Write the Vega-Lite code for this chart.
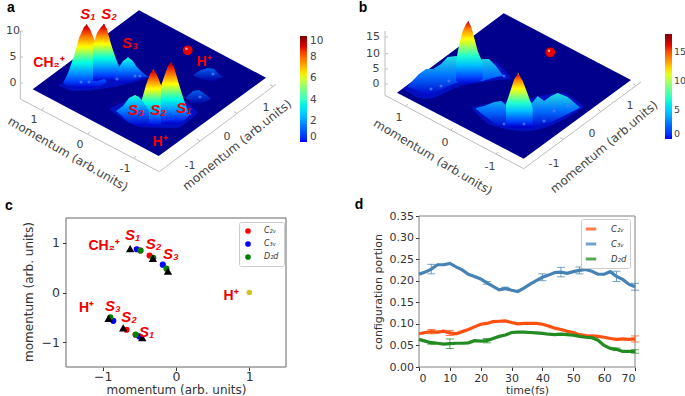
{
"$schema":"https://vega.github.io/schema/vega-lite/v6.json",
"padding":0,
"background":"white",
"columns":2,
"bounds":"flush",
"align":"all",
"spacing":{"row":0,"column":133},
"config":{"view":{"stroke":null},"font":"DejaVu Sans"},
"datasets":{
"aFloor":[{"u":31.7,"top":88.3,"base":88.3},{"u":138,"top":9.3,"base":144.6},{"u":157.7,"top":19.8,"base":155},{"u":265,"top":76.7,"base":76.7}],
"bFloor":[{"u":396,"top":91.7,"base":91.7},{"u":502.7,"top":12.3,"base":147.3},{"u":522.7,"top":22.8,"base":157.7},{"u":630,"top":79,"base":79}],
"aAxis":[{"u":19.3,"w":30,"i":0},{"u":19.3,"w":98,"i":1},{"u":158.3,"w":170.7,"i":2},{"u":275,"w":83.3,"i":3}],
"bAxis":[{"u":384,"w":30,"i":0},{"u":384,"w":94.3,"i":1},{"u":522.7,"w":167.7,"i":2},{"u":640,"w":81,"i":3}],
"aTicks":[{"u":19.3,"u2":22,"w":30,"w2":30},{"u":19.3,"u2":22,"w":56,"w2":56},{"u":19.3,"u2":22,"w":82,"w2":82},{"u":41,"u2":43,"w":109,"w2":106.5},{"u":87,"u2":89,"w":133,"w2":130.5},{"u":133,"u2":135,"w":157.5,"w2":155},{"u":199,"u2":196,"w":140,"w2":138},{"u":236,"u2":233,"w":112.5,"w2":110.5},{"u":272,"u2":269,"w":85.6,"w2":83.6}],
"bTicks":[{"u":384,"u2":387,"w":36,"w2":36},{"u":384,"u2":387,"w":52.7,"w2":52.7},{"u":384,"u2":387,"w":68,"w2":68},{"u":384,"u2":387,"w":83,"w2":83},{"u":405,"u2":407,"w":105,"w2":103},{"u":450,"u2":452,"w":129,"w2":127},{"u":495,"u2":497,"w":153,"w2":151},{"u":562,"u2":559,"w":138.6,"w2":136.6},{"u":600,"u2":597,"w":110.5,"w2":108.5},{"u":635,"u2":632,"w":84.7,"w2":82.7}],
"aSkirt":[{"p":"front","u":108,"top":108,"base":108},{"p":"front","u":125,"top":100,"base":120},{"p":"front","u":140,"top":96,"base":126},{"p":"front","u":175,"top":96,"base":127},{"p":"front","u":190,"top":105,"base":118},{"p":"front","u":197,"top":112,"base":112},{"p":"back","u":57,"top":84,"base":84},{"p":"back","u":75,"top":78,"base":90},{"p":"back","u":100,"top":70,"base":88},{"p":"back","u":130,"top":70,"base":82},{"p":"back","u":150,"top":76,"base":76}],
"bSkirt":[{"p":"front","u":470,"top":106,"base":106},{"p":"front","u":490,"top":102,"base":124},{"p":"front","u":525,"top":98,"base":130},{"p":"front","u":560,"top":92,"base":120},{"p":"front","u":583,"top":106,"base":106},{"p":"back","u":402,"top":88,"base":88},{"p":"back","u":425,"top":72,"base":98},{"p":"back","u":460,"top":60,"base":85},{"p":"back","u":490,"top":60,"base":80},{"p":"back","u":511,"top":78,"base":78}],
"aTall":[
{"p":"S1","u":62,"top":82,"base":82},{"p":"S1","u":67,"top":72,"base":85},{"p":"S1","u":73,"top":55,"base":86},{"p":"S1","u":78,"top":37,"base":87},{"p":"S1","u":83,"top":26,"base":87},{"p":"S1","u":85.7,"top":23.5,"base":87},{"p":"S1","u":89,"top":28,"base":87},{"p":"S1","u":95,"top":43,"base":86},{"p":"S1","u":100,"top":63,"base":85},{"p":"S1","u":105,"top":80,"base":82},
{"p":"S2","u":92,"top":44,"base":80},{"p":"S2","u":96,"top":32,"base":80},{"p":"S2","u":100,"top":26,"base":79},{"p":"S2","u":103,"top":23,"base":78},{"p":"S2","u":106,"top":28,"base":79},{"p":"S2","u":110,"top":43,"base":79},{"p":"S2","u":115,"top":58,"base":80},{"p":"S2","u":120,"top":70,"base":78},{"p":"S2","u":125,"top":80,"base":76},
{"p":"F2","u":137,"top":112,"base":120},{"p":"F2","u":141,"top":98,"base":122},{"p":"F2","u":145,"top":84,"base":124},{"p":"F2","u":149,"top":73,"base":125},{"p":"F2","u":152.3,"top":68,"base":125},{"p":"F2","u":156,"top":74,"base":125},{"p":"F2","u":160,"top":84,"base":124},{"p":"F2","u":165,"top":98,"base":122},{"p":"F2","u":170,"top":112,"base":120},
{"p":"F1","u":160,"top":85,"base":122},{"p":"F1","u":164,"top":73,"base":123},{"p":"F1","u":167,"top":65,"base":123},{"p":"F1","u":170,"top":61.5,"base":123},{"p":"F1","u":173,"top":66,"base":123},{"p":"F1","u":177,"top":80,"base":123},{"p":"F1","u":181,"top":93,"base":121},{"p":"F1","u":185,"top":105,"base":118},{"p":"F1","u":190,"top":115,"base":112}
],
"aShort":[
{"p":"S3","u":113,"top":78,"base":79},{"p":"S3","u":118,"top":66,"base":82},{"p":"S3","u":122,"top":60,"base":82},{"p":"S3","u":127,"top":56.5,"base":82},{"p":"S3","u":131,"top":59,"base":80},{"p":"S3","u":136,"top":66,"base":78},{"p":"S3","u":142,"top":72,"base":76},{"p":"S3","u":147,"top":76,"base":76},
{"p":"F3","u":115,"top":110,"base":110},{"p":"F3","u":122,"top":105,"base":116},{"p":"F3","u":128,"top":97,"base":122},{"p":"F3","u":134,"top":94,"base":124},{"p":"F3","u":138,"top":96,"base":125},{"p":"F3","u":143,"top":102,"base":125},{"p":"F3","u":148,"top":110,"base":122}
],
"aLow":[
{"p":"H1","u":192,"top":74,"base":74},{"p":"H1","u":200,"top":69,"base":78},{"p":"H1","u":207,"top":67,"base":80},{"p":"H1","u":213,"top":68,"base":80},{"p":"H1","u":219,"top":74,"base":77},{"p":"H1","u":223,"top":76,"base":76},
{"p":"H2","u":185,"top":96,"base":98},{"p":"H2","u":192,"top":90,"base":102},{"p":"H2","u":198,"top":89,"base":103},{"p":"H2","u":204,"top":93,"base":101},{"p":"H2","u":210,"top":98,"base":98}
],
"aPatch":[{"u":80,"w":81},{"u":88,"w":81},{"u":116,"w":78},{"u":134,"w":75},{"u":139,"w":75},{"u":212,"w":73},{"u":199,"w":96}],
"aTips":[{"u":85.7,"w":24,"v":9.6},{"u":103,"w":23.5,"v":9.6},{"u":127,"w":57,"v":3.6},{"u":152.3,"w":69,"v":8.4},{"u":170,"w":62,"v":9.2},{"u":134,"w":95,"v":4.2}],
"bTall":[
{"p":"B1","u":455,"top":60,"base":80},{"p":"B1","u":458.3,"top":43,"base":82},{"p":"B1","u":461.7,"top":30,"base":82},{"p":"B1","u":465,"top":23,"base":83},{"p":"B1","u":467.3,"top":20.5,"base":83},{"p":"B1","u":470,"top":25,"base":83},{"p":"B1","u":473.3,"top":37,"base":82},{"p":"B1","u":476.7,"top":50,"base":81},{"p":"B1","u":481.7,"top":62,"base":78},
{"p":"B2","u":505,"top":103,"base":125},{"p":"B2","u":510,"top":88,"base":126},{"p":"B2","u":513.3,"top":78,"base":126},{"p":"B2","u":517.3,"top":72.5,"base":126},{"p":"B2","u":521.7,"top":80,"base":126},{"p":"B2","u":526.7,"top":93,"base":126},{"p":"B2","u":531.7,"top":107,"base":125}
],
"bRidge":[
{"p":"R1","u":406.7,"top":85,"base":86},{"p":"R1","u":418,"top":73,"base":90},{"p":"R1","u":425,"top":68,"base":95},{"p":"R1","u":432,"top":68,"base":93},{"p":"R1","u":440,"top":63,"base":89},{"p":"R1","u":446.7,"top":56,"base":85},{"p":"R1","u":455,"top":55,"base":82},{"p":"R1","u":476.7,"top":60,"base":80},{"p":"R1","u":481.7,"top":58,"base":80},{"p":"R1","u":488,"top":58,"base":78},{"p":"R1","u":495,"top":65,"base":76},{"p":"R1","u":501.7,"top":74,"base":75},{"p":"R1","u":506.7,"top":78,"base":78},
{"p":"R2","u":475,"top":107,"base":108},{"p":"R2","u":483.3,"top":105,"base":115},{"p":"R2","u":493.3,"top":101,"base":122},{"p":"R2","u":500,"top":100,"base":126},{"p":"R2","u":505,"top":104,"base":126},{"p":"R2","u":513.3,"top":100,"base":127},{"p":"R2","u":526.7,"top":98,"base":127},{"p":"R2","u":531,"top":102,"base":127},{"p":"R2","u":536.7,"top":95,"base":125},{"p":"R2","u":543,"top":100,"base":123},{"p":"R2","u":550,"top":95,"base":121},{"p":"R2","u":556.7,"top":92,"base":118},{"p":"R2","u":566.7,"top":96,"base":113},{"p":"R2","u":578.3,"top":106,"base":107}
],
"bPatch":[{"u":430,"w":88},{"u":440,"w":85},{"u":448,"w":80},{"u":503,"w":75},{"u":503,"w":123},{"u":523,"w":123},{"u":543,"w":120},{"u":553,"w":110},{"u":567,"w":105}],
"bTips":[{"u":467.3,"w":21,"v":17},{"u":517.3,"w":73,"v":13}],
"scatter":[
{"x":-0.36,"y":0.745,"c":"C₂ᵥ"},{"x":-0.485,"y":0.845,"c":"C₂ᵥ"},{"x":-0.674,"y":-0.75,"c":"C₂ᵥ"},{"x":-0.55,"y":-0.85,"c":"C₂ᵥ"},
{"x":-0.535,"y":0.87,"c":"C₃ᵥ"},{"x":-0.18,"y":0.56,"c":"C₃ᵥ"},{"x":-0.855,"y":-0.57,"c":"C₃ᵥ"},{"x":-0.5,"y":-0.885,"c":"C₃ᵥ"},
{"x":-0.485,"y":0.845,"c":"D₂d"},{"x":-0.13,"y":0.48,"c":"D₂d"},{"x":-0.895,"y":-0.5,"c":"D₂d"},{"x":-0.55,"y":-0.845,"c":"D₂d"},{"x":-0.31,"y":0.7,"c":"D₂d"}
],
"tri":[{"x":-0.625,"y":0.885},{"x":-0.315,"y":0.685},{"x":-0.11,"y":0.43},{"x":-0.92,"y":-0.52},{"x":-0.72,"y":-0.71},{"x":-0.46,"y":-0.91}],
"lines":[
{"t":0,"s":"C₂ᵥ","p":0.077},{"t":2,"s":"C₂ᵥ","p":0.08},{"t":4,"s":"C₂ᵥ","p":0.082},{"t":6,"s":"C₂ᵥ","p":0.081},{"t":8,"s":"C₂ᵥ","p":0.083},{"t":10,"s":"C₂ᵥ","p":0.079},{"t":12,"s":"C₂ᵥ","p":0.077},{"t":14,"s":"C₂ᵥ","p":0.082},{"t":16,"s":"C₂ᵥ","p":0.087},{"t":18,"s":"C₂ᵥ","p":0.093},{"t":20,"s":"C₂ᵥ","p":0.099},{"t":22,"s":"C₂ᵥ","p":0.101},{"t":24,"s":"C₂ᵥ","p":0.105},{"t":26,"s":"C₂ᵥ","p":0.106},{"t":28,"s":"C₂ᵥ","p":0.107},{"t":30,"s":"C₂ᵥ","p":0.103},{"t":32,"s":"C₂ᵥ","p":0.1},{"t":34,"s":"C₂ᵥ","p":0.101},{"t":36,"s":"C₂ᵥ","p":0.101},{"t":38,"s":"C₂ᵥ","p":0.101},{"t":40,"s":"C₂ᵥ","p":0.099},{"t":42,"s":"C₂ᵥ","p":0.095},{"t":44,"s":"C₂ᵥ","p":0.09},{"t":46,"s":"C₂ᵥ","p":0.087},{"t":48,"s":"C₂ᵥ","p":0.083},{"t":50,"s":"C₂ᵥ","p":0.08},{"t":52,"s":"C₂ᵥ","p":0.075},{"t":54,"s":"C₂ᵥ","p":0.073},{"t":56,"s":"C₂ᵥ","p":0.072},{"t":58,"s":"C₂ᵥ","p":0.071},{"t":60,"s":"C₂ᵥ","p":0.069},{"t":62,"s":"C₂ᵥ","p":0.066},{"t":64,"s":"C₂ᵥ","p":0.064},{"t":66,"s":"C₂ᵥ","p":0.065},{"t":68,"s":"C₂ᵥ","p":0.064},{"t":70,"s":"C₂ᵥ","p":0.065},
{"t":0,"s":"C₃ᵥ","p":0.215},{"t":2,"s":"C₃ᵥ","p":0.22},{"t":4,"s":"C₃ᵥ","p":0.227},{"t":6,"s":"C₃ᵥ","p":0.237},{"t":8,"s":"C₃ᵥ","p":0.237},{"t":10,"s":"C₃ᵥ","p":0.24},{"t":12,"s":"C₃ᵥ","p":0.232},{"t":14,"s":"C₃ᵥ","p":0.225},{"t":16,"s":"C₃ᵥ","p":0.215},{"t":18,"s":"C₃ᵥ","p":0.21},{"t":20,"s":"C₃ᵥ","p":0.204},{"t":22,"s":"C₃ᵥ","p":0.195},{"t":24,"s":"C₃ᵥ","p":0.187},{"t":26,"s":"C₃ᵥ","p":0.179},{"t":28,"s":"C₃ᵥ","p":0.182},{"t":30,"s":"C₃ᵥ","p":0.178},{"t":32,"s":"C₃ᵥ","p":0.175},{"t":34,"s":"C₃ᵥ","p":0.183},{"t":36,"s":"C₃ᵥ","p":0.192},{"t":38,"s":"C₃ᵥ","p":0.2},{"t":40,"s":"C₃ᵥ","p":0.208},{"t":42,"s":"C₃ᵥ","p":0.213},{"t":44,"s":"C₃ᵥ","p":0.219},{"t":46,"s":"C₃ᵥ","p":0.22},{"t":48,"s":"C₃ᵥ","p":0.217},{"t":50,"s":"C₃ᵥ","p":0.221},{"t":52,"s":"C₃ᵥ","p":0.224},{"t":54,"s":"C₃ᵥ","p":0.226},{"t":56,"s":"C₃ᵥ","p":0.222},{"t":58,"s":"C₃ᵥ","p":0.215},{"t":60,"s":"C₃ᵥ","p":0.215},{"t":62,"s":"C₃ᵥ","p":0.221},{"t":64,"s":"C₃ᵥ","p":0.21},{"t":66,"s":"C₃ᵥ","p":0.203},{"t":68,"s":"C₃ᵥ","p":0.192},{"t":70,"s":"C₃ᵥ","p":0.186},
{"t":0,"s":"D₂d","p":0.064},{"t":2,"s":"D₂d","p":0.06},{"t":4,"s":"D₂d","p":0.056},{"t":6,"s":"D₂d","p":0.055},{"t":8,"s":"D₂d","p":0.053},{"t":10,"s":"D₂d","p":0.054},{"t":12,"s":"D₂d","p":0.055},{"t":14,"s":"D₂d","p":0.055},{"t":16,"s":"D₂d","p":0.056},{"t":18,"s":"D₂d","p":0.061},{"t":20,"s":"D₂d","p":0.06},{"t":22,"s":"D₂d","p":0.061},{"t":24,"s":"D₂d","p":0.066},{"t":26,"s":"D₂d","p":0.071},{"t":28,"s":"D₂d","p":0.074},{"t":30,"s":"D₂d","p":0.08},{"t":32,"s":"D₂d","p":0.081},{"t":34,"s":"D₂d","p":0.081},{"t":36,"s":"D₂d","p":0.08},{"t":38,"s":"D₂d","p":0.079},{"t":40,"s":"D₂d","p":0.078},{"t":42,"s":"D₂d","p":0.076},{"t":44,"s":"D₂d","p":0.075},{"t":46,"s":"D₂d","p":0.076},{"t":48,"s":"D₂d","p":0.075},{"t":50,"s":"D₂d","p":0.074},{"t":52,"s":"D₂d","p":0.071},{"t":54,"s":"D₂d","p":0.069},{"t":56,"s":"D₂d","p":0.068},{"t":58,"s":"D₂d","p":0.062},{"t":60,"s":"D₂d","p":0.05},{"t":62,"s":"D₂d","p":0.043},{"t":64,"s":"D₂d","p":0.041},{"t":66,"s":"D₂d","p":0.036},{"t":68,"s":"D₂d","p":0.036},{"t":70,"s":"D₂d","p":0.036}
],
"errs":[
{"t":4,"s":"C₃ᵥ","p":0.216,"p2":0.238},{"t":22,"s":"C₃ᵥ","p":0.192,"p2":0.198},{"t":28,"s":"C₃ᵥ","p":0.179,"p2":0.185},{"t":40,"s":"C₃ᵥ","p":0.2,"p2":0.216},{"t":46,"s":"C₃ᵥ","p":0.209,"p2":0.231},{"t":52,"s":"C₃ᵥ","p":0.216,"p2":0.232},{"t":64,"s":"C₃ᵥ","p":0.198,"p2":0.222},{"t":70,"s":"C₃ᵥ","p":0.178,"p2":0.194},
{"t":4,"s":"C₂ᵥ","p":0.077,"p2":0.087},{"t":10,"s":"C₂ᵥ","p":0.073,"p2":0.085},{"t":70,"s":"C₂ᵥ","p":0.058,"p2":0.072},
{"t":4,"s":"D₂d","p":0.053,"p2":0.059},{"t":10,"s":"D₂d","p":0.043,"p2":0.065},{"t":22,"s":"D₂d","p":0.056,"p2":0.066},{"t":64,"s":"D₂d","p":0.038,"p2":0.044},{"t":70,"s":"D₂d","p":0.032,"p2":0.04}
]
},
"concat":[
{"width":220,"height":215,
 "encoding":{"x":{"field":"u","type":"quantitative","scale":{"domain":[65,285],"nice":false,"zero":false},"axis":null},"y":{"field":"w","type":"quantitative","scale":{"domain":[215,0],"nice":false,"zero":false},"axis":null}},
 "layer":[
 {"data":{"values":[{"u":0,"w":0}]},"mark":{"type":"point","size":1,"opacity":0}},
 {"data":{"name":"aAxis"},"mark":{"type":"line","color":"#bdbdbd","strokeWidth":1},"encoding":{"order":{"field":"i"}}},
 {"data":{"name":"aTicks"},"mark":{"type":"rule","color":"#bdbdbd","strokeWidth":1},"encoding":{"x2":{"field":"u2"},"y2":{"field":"w2"}}},
 {"data":{"name":"aFloor"},"mark":{"type":"area","color":"#00008c"},"encoding":{"y":{"field":"top","type":"quantitative"},"y2":{"field":"base"}}},
 {"data":{"name":"aSkirt"},"mark":{"type":"area","color":"#0010c0","interpolate":"monotone"},"encoding":{"y":{"field":"top","type":"quantitative"},"y2":{"field":"base"},"detail":{"field":"p"}}},
 {"data":{"name":"aTall"},"mark":{"type":"area","color":{"gradient":"linear","x1":0,"y1":1,"x2":0,"y2":0,"stops":[{"offset":0,"color":"#0000c8"},{"offset":0.1,"color":"#0040ff"},{"offset":0.25,"color":"#00a0ff"},{"offset":0.4,"color":"#00ffe0"},{"offset":0.5,"color":"#60ff90"},{"offset":0.65,"color":"#ffff00"},{"offset":0.8,"color":"#ff8000"},{"offset":0.95,"color":"#e00000"},{"offset":1,"color":"#b00000"}]}},"encoding":{"y":{"field":"top","type":"quantitative"},"y2":{"field":"base"},"detail":{"field":"p"}}},
 {"data":{"name":"aShort"},"mark":{"type":"area","color":{"gradient":"linear","x1":0,"y1":1,"x2":0,"y2":0,"stops":[{"offset":0,"color":"#0000c8"},{"offset":0.4,"color":"#0060ff"},{"offset":0.8,"color":"#00d0ff"},{"offset":1,"color":"#20ffc0"}]}},"encoding":{"y":{"field":"top","type":"quantitative"},"y2":{"field":"base"},"detail":{"field":"p"}}},
 {"data":{"name":"aLow"},"mark":{"type":"area","color":{"gradient":"linear","x1":0,"y1":1,"x2":0,"y2":0,"stops":[{"offset":0,"color":"#0000a0"},{"offset":1,"color":"#0060f0"}]}},"encoding":{"y":{"field":"top","type":"quantitative"},"y2":{"field":"base"},"detail":{"field":"p"}}},
 {"data":{"name":"aPatch"},"mark":{"type":"point","filled":true,"shape":"diamond","size":14,"color":"#4a80ff","opacity":0.8}},
 {"data":{"name":"aTips"},"mark":{"type":"point","filled":true,"size":2,"opacity":1},"encoding":{"color":{"field":"v","type":"quantitative","scale":{"domain":[0,10],"range":["#0000ff","#0060ff","#00c0ff","#20ffd0","#80ff80","#f0ff10","#ff9000","#f01000","#7f0000"]},"legend":{"title":null,"orient":"none","legendX":234,"legendY":35,"gradientLength":106,"gradientThickness":7,"values":[0,2,4,6,8,10],"labelFontSize":10.5,"labelColor":"#444","labelOffset":3,"gradientStrokeWidth":0}}}},
 {"data":{"values":[{"u":186.7,"w":49.3}]},"mark":{"type":"point","filled":true,"size":95,"color":"#e80000","opacity":1}},
 {"data":{"values":[{"u":185.5,"w":47.8}]},"mark":{"type":"point","filled":true,"size":6,"color":"#ffb0a0","opacity":1}},
 {"data":{"values":[{"u":12,"w":30,"t":"10"},{"u":12,"w":56,"t":"5"},{"u":12,"w":82,"t":"0"},{"u":33,"w":119,"t":"1"},{"u":79,"w":144,"t":"0"},{"u":124,"w":168,"t":"-1"},{"u":189,"w":165,"t":"-1"},{"u":226,"w":136,"t":"0"},{"u":265,"w":107,"t":"1"}]},"mark":{"type":"text","align":"center","baseline":"middle","fontSize":11,"color":"#444"},"encoding":{"text":{"field":"t"}}},
 {"data":{"values":[{"u":67,"w":153,"t":"momentum (arb.units)"}]},"mark":{"type":"text","angle":30,"align":"center","baseline":"middle","fontSize":12,"color":"#444"},"encoding":{"text":{"field":"t"}}},
 {"data":{"values":[{"u":236,"w":144,"t":"momentum (arb.units)"}]},"mark":{"type":"text","angle":321,"align":"center","baseline":"middle","fontSize":12,"color":"#444"},"encoding":{"text":{"field":"t"}}},
 {"data":{"values":[{"u":87,"w":13,"t":"S₁"},{"u":108,"w":13,"t":"S₂"},{"u":129,"w":42,"t":"S₃"},{"u":135,"w":109,"t":"S₃"},{"u":157,"w":109,"t":"S₂"},{"u":183,"w":107,"t":"S₁"}]},"mark":{"type":"text","align":"center","baseline":"middle","fontSize":15,"fontWeight":"bold","fontStyle":"italic","color":"#f00000","font":"Liberation Sans"},"encoding":{"text":{"field":"t"}}},
 {"data":{"values":[{"u":48,"w":62,"t":"CH₂⁺"},{"u":203,"w":61,"t":"H⁺"},{"u":159,"w":141,"t":"H⁺"}]},"mark":{"type":"text","align":"center","baseline":"middle","fontSize":14,"fontWeight":"bold","color":"#f00000","font":"Liberation Sans"},"encoding":{"text":{"field":"t"}}},
 {"data":{"values":[{"u":10,"w":7,"t":"a"},{"u":8,"w":205,"t":"c"}]},"mark":{"type":"text","align":"center","baseline":"middle","fontSize":14,"fontWeight":"bold","color":"#000","font":"Liberation Sans"},"encoding":{"text":{"field":"t"}}}
 ]},
{"width":216,"height":215,
 "encoding":{"x":{"field":"u","type":"quantitative","scale":{"domain":[418,634],"nice":false,"zero":false},"axis":null},"y":{"field":"w","type":"quantitative","scale":{"domain":[215,0],"nice":false,"zero":false},"axis":null}},
 "layer":[
 {"data":{"name":"bAxis"},"mark":{"type":"line","color":"#bdbdbd","strokeWidth":1},"encoding":{"order":{"field":"i"}}},
 {"data":{"name":"bTicks"},"mark":{"type":"rule","color":"#bdbdbd","strokeWidth":1},"encoding":{"x2":{"field":"u2"},"y2":{"field":"w2"}}},
 {"data":{"name":"bFloor"},"mark":{"type":"area","color":"#00008c"},"encoding":{"y":{"field":"top","type":"quantitative"},"y2":{"field":"base"}}},
 {"data":{"name":"bSkirt"},"mark":{"type":"area","color":"#0010c0","interpolate":"monotone"},"encoding":{"y":{"field":"top","type":"quantitative"},"y2":{"field":"base"},"detail":{"field":"p"}}},
 {"data":{"name":"bRidge"},"mark":{"type":"area","color":{"gradient":"linear","x1":0,"y1":1,"x2":0,"y2":0,"stops":[{"offset":0,"color":"#0000c8"},{"offset":0.5,"color":"#0070ff"},{"offset":1,"color":"#20e0e0"}]}},"encoding":{"y":{"field":"top","type":"quantitative"},"y2":{"field":"base"},"detail":{"field":"p"}}},
 {"data":{"name":"bTall"},"mark":{"type":"area","color":{"gradient":"linear","x1":0,"y1":1,"x2":0,"y2":0,"stops":[{"offset":0,"color":"#0000c8"},{"offset":0.1,"color":"#0040ff"},{"offset":0.3,"color":"#00c0ff"},{"offset":0.45,"color":"#20ffd0"},{"offset":0.6,"color":"#a0ff60"},{"offset":0.72,"color":"#ffff00"},{"offset":0.88,"color":"#ff8000"},{"offset":1,"color":"#d00000"}]}},"encoding":{"y":{"field":"top","type":"quantitative"},"y2":{"field":"base"},"detail":{"field":"p"}}},
 {"data":{"name":"bPatch"},"mark":{"type":"point","filled":true,"shape":"diamond","size":14,"color":"#4a80ff","opacity":0.8}},
 {"data":{"name":"bTips"},"mark":{"type":"point","filled":true,"size":2,"opacity":1},"encoding":{"color":{"field":"v","type":"quantitative","scale":{"domain":[0,18],"range":["#0000ff","#0060ff","#00c0ff","#20ffd0","#80ff80","#f0ff10","#ff9000","#f01000","#7f0000"]},"legend":{"title":null,"orient":"none","legendX":246,"legendY":33,"gradientLength":105,"gradientThickness":7,"values":[0,5,10,15],"labelFontSize":9.5,"labelColor":"#444","labelOffset":2,"gradientStrokeWidth":0}}}},
 {"data":{"values":[{"u":549.3,"w":51.3}]},"mark":{"type":"point","filled":true,"size":95,"color":"#e80000","opacity":1}},
 {"data":{"values":[{"u":548,"w":49.8}]},"mark":{"type":"point","filled":true,"size":6,"color":"#ffb0a0","opacity":1}},
 {"data":{"values":[{"u":372,"w":36,"t":"15"},{"u":372,"w":52.7,"t":"10"},{"u":375,"w":68,"t":"5"},{"u":375,"w":83,"t":"0"},{"u":398,"w":117,"t":"1"},{"u":444,"w":142,"t":"0"},{"u":489,"w":166,"t":"-1"},{"u":553,"w":163,"t":"-1"},{"u":591,"w":133,"t":"0"},{"u":629,"w":105,"t":"1"}]},"mark":{"type":"text","align":"center","baseline":"middle","fontSize":11,"color":"#444"},"encoding":{"text":{"field":"t"}}},
 {"data":{"values":[{"u":432,"w":156,"t":"momentum (arb.units)"}]},"mark":{"type":"text","angle":31,"align":"center","baseline":"middle","fontSize":12,"color":"#444"},"encoding":{"text":{"field":"t"}}},
 {"data":{"values":[{"u":603,"w":146,"t":"momentum (arb.units)"}]},"mark":{"type":"text","angle":320,"align":"center","baseline":"middle","fontSize":12,"color":"#444"},"encoding":{"text":{"field":"t"}}},
 {"data":{"values":[{"u":362,"w":7,"t":"b"},{"u":358,"w":204,"t":"d"}]},"mark":{"type":"text","align":"center","baseline":"middle","fontSize":14,"fontWeight":"bold","color":"#000","font":"Liberation Sans"},"encoding":{"text":{"field":"t"}}}
 ]},
{"width":220,"height":151,
 "layer":[
 {"data":{"values":[{"x":-1.5,"x2":1.5,"y":-1.5,"y2":1.5}]},"mark":{"type":"rect","fill":null,"fillOpacity":0,"stroke":"#666","strokeWidth":1},
  "encoding":{"x":{"field":"x","type":"quantitative","scale":{"domain":[-1.5,1.5],"nice":false,"zero":false},"axis":{"values":[-1,0,1],"format":"d","title":"momentum (arb. units)","titleFontSize":12,"titleFontWeight":"normal","titleColor":"#333","labelFontSize":12.5,"labelColor":"#333","domain":false,"grid":false,"tickColor":"#333","tickSize":3.5,"titlePadding":1,"labelPadding":0}},"x2":{"field":"x2"},
  "y":{"field":"y","type":"quantitative","scale":{"domain":[-1.5,1.5403],"nice":false,"zero":false},"axis":{"values":[-1,0,1],"format":"d","title":"momentum (arb. units)","titleFontSize":12,"titleFontWeight":"normal","titleColor":"#333","labelFontSize":12.5,"labelColor":"#333","domain":false,"grid":false,"tickColor":"#333","tickSize":3.5,"titlePadding":6,"labelPadding":3}},"y2":{"field":"y2"}}},
 {"data":{"name":"scatter"},"mark":{"type":"point","filled":true,"opacity":1},
  "encoding":{"x":{"field":"x","type":"quantitative"},"y":{"field":"y","type":"quantitative"},
  "color":{"field":"c","type":"nominal","sort":null,"scale":{"domain":["C₂ᵥ","C₃ᵥ","D₂d"],"range":["#ff0000","#0000ff","#008000"]},"legend":{"title":null,"orient":"none","legendX":173,"legendY":6,"fillColor":"#ffffff","strokeColor":"#cccccc","padding":5,"cornerRadius":2,"labelFontSize":8,"labelFontStyle":"italic","labelColor":"#333","rowPadding":5,"labelOffset":12,"symbolSize":32,"encoding":{"symbols":{"update":{"size":{"signal":"datum.value==='D₂d'?10:32"}}}}}},
  "size":{"field":"c","type":"nominal","sort":null,"scale":{"domain":["C₂ᵥ","C₃ᵥ","D₂d"],"range":[38,38,18]},"legend":null}}},
 {"data":{"values":[{"x":1,"y":0}]},"mark":{"type":"point","filled":true,"size":30,"color":"#cfc41a","opacity":1},"encoding":{"x":{"field":"x","type":"quantitative"},"y":{"field":"y","type":"quantitative"}}},
 {"data":{"name":"tri"},"mark":{"type":"point","shape":"triangle-up","filled":true,"size":70,"color":"#000","opacity":1},"encoding":{"x":{"field":"x","type":"quantitative"},"y":{"field":"y","type":"quantitative"}}},
 {"data":{"values":[{"x":-0.59,"y":1.16,"t":"S₁"},{"x":-0.305,"y":0.98,"t":"S₂"},{"x":-0.07,"y":0.78,"t":"S₃"},{"x":-0.86,"y":-0.28,"t":"S₃"},{"x":-0.64,"y":-0.5,"t":"S₂"},{"x":-0.4,"y":-0.79,"t":"S₁"}]},"mark":{"type":"text","align":"center","baseline":"middle","fontSize":15,"fontWeight":"bold","fontStyle":"italic","color":"#f00000","font":"Liberation Sans"},"encoding":{"x":{"field":"x","type":"quantitative"},"y":{"field":"y","type":"quantitative"},"text":{"field":"t"}}},
 {"data":{"values":[{"x":-0.98,"y":0.94,"t":"CH₂⁺"},{"x":0.75,"y":-0.07,"t":"H⁺"},{"x":-1.22,"y":-0.32,"t":"H⁺"}]},"mark":{"type":"text","align":"center","baseline":"middle","fontSize":14,"fontWeight":"bold","color":"#f00000","font":"Liberation Sans"},"encoding":{"x":{"field":"x","type":"quantitative"},"y":{"field":"y","type":"quantitative"},"text":{"field":"t"}}}
 ]},
{"width":216,"height":151,
 "encoding":{
  "x":{"field":"t","type":"quantitative","scale":{"domain":[0,70],"nice":false,"zero":false},"axis":{"values":[0,10,20,30,40,50,60,70],"labelOverlap":false,"title":"time(fs)","titleFontSize":11,"titleFontWeight":"normal","titleColor":"#333","labelFontSize":11,"labelColor":"#333","domain":false,"grid":false,"tickColor":"#333","tickSize":3.5,"labelPadding":2,"titlePadding":1}},
  "y":{"field":"p","type":"quantitative","scale":{"domain":[0,0.35],"nice":false,"zero":false},"axis":{"values":[0,0.05,0.1,0.15,0.2,0.25,0.3,0.35],"labelOverlap":false,"format":".2f","title":"configuration portion","titleFontSize":11,"titleFontWeight":"normal","titleColor":"#333","labelFontSize":11,"labelColor":"#333","domain":false,"grid":false,"tickColor":"#333","tickSize":3.5,"labelPadding":2,"titlePadding":6}}},
 "layer":[
 {"data":{"values":[{"t":0,"t2":70,"p":0,"p2":0.35}]},"mark":{"type":"rect","fill":null,"fillOpacity":0,"stroke":"#808080","strokeWidth":1},
  "encoding":{"x2":{"field":"t2"},"y2":{"field":"p2"}}},
 {"data":{"name":"lines"},"mark":{"type":"line","strokeWidth":3.2},
  "encoding":{
  "color":{"field":"s","type":"nominal","sort":null,"scale":{"domain":["C₂ᵥ","C₃ᵥ","D₂d"],"range":["#ff5010","#4682b4","#228b22"]},"legend":{"title":null,"orient":"none","legendX":162,"legendY":3,"symbolType":"stroke","symbolStrokeWidth":3,"symbolSize":110,"fillColor":"#ffffff","strokeColor":"#cccccc","padding":3,"cornerRadius":2,"labelFontSize":8.5,"labelFontStyle":"italic","labelColor":"#333","rowPadding":2,"labelOffset":13}}}},
 {"data":{"name":"errs"},"mark":{"type":"errorbar","ticks":true,"size":8,"opacity":0.75},
  "encoding":{"y2":{"field":"p2"},"color":{"field":"s","type":"nominal"}}}
 ]}
]}
